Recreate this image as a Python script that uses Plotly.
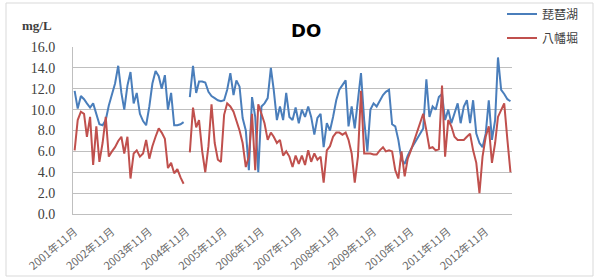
import pandas as pd
import plotly.graph_objects as go

# ---- data ----
start_month = "2001-11-01"

biwako = [
    11.8, 10.1, 11.3, 11.0, 10.6, 10.2, 10.6, 9.6, 8.6, 8.5,
    9.0, 10.4, 11.6, 12.5, 14.2, 11.6, 10.0, 12.3, 13.6, 10.6,
    11.6, 9.6, 8.9, 8.5, 10.3, 12.5, 13.7, 13.2, 12.0, 13.3,
    10.0, 11.6, 8.5, 8.5, 8.6, 8.8, None, 11.2, 14.2, 11.6,
    12.7, 12.7, 12.6, 11.7, 11.3, 11.1, 10.9, 10.8, 10.9, 11.9,
    13.5, 11.4, 12.8, 12.2, 9.2, 8.0, 4.2, 11.2, 9.3, 4.0,
    10.3, 10.6, 11.1, 14.0, 11.9, 9.0, 10.3, 9.0, 11.6, 9.3,
    9.0, 10.2, 8.7, 10.0, 9.3, 10.3, 9.3, 7.6, 9.2, 9.6,
    6.4, 8.7, 8.0, 9.3, 10.9, 11.9, 12.3, 12.8, 8.4, 10.3,
    8.2, 10.9, 13.5, 9.0, 6.0, 10.0, 10.6, 10.3, 10.9, 11.4,
    11.7, 11.9, 8.6, 8.4, 7.1, 5.2, 4.8, 5.6, 6.2, 6.7,
    7.2, 7.6, 8.2, 12.9, 9.3, 10.3, 10.0, 11.2, 11.5, 9.0,
    10.0, 8.7, 9.6, 10.6, 8.7, 10.3, 10.9, 8.7, 10.9, 7.7,
    6.8, 6.4, 7.7, 10.9, 7.1, 9.0, 15.0, 11.9, 11.5, 11.0,
    10.8,
]

hachimanbori = [
    6.1, 9.0, 9.8, 9.6, 7.4, 9.3, 4.7, 8.4, 5.0, 6.8,
    9.3, 5.5, 6.0, 6.4, 7.0, 7.4, 5.8, 7.4, 3.4, 5.8,
    6.1, 5.5, 5.8, 7.1, 5.3, 6.5, 7.4, 8.2, 7.8, 7.2,
    4.4, 4.9, 3.9, 4.3, 3.5, 2.9, None, 5.9, 10.2, 8.3,
    9.0, 6.0, 4.0, 6.5, 10.5, 6.8, 5.2, 5.0, 9.5, 10.6,
    10.3, 9.8, 9.0, 8.0, 6.8, 4.5, 5.5, 9.6, 4.2, 10.5,
    9.6, 8.7, 7.1, 7.8, 7.4, 6.8, 7.1, 5.6, 6.0, 5.5,
    4.5, 5.6, 4.8, 5.6, 4.7, 6.1, 5.0, 5.8, 5.2, 5.5,
    3.0, 6.1, 6.5, 7.4, 7.8, 7.8, 7.6, 7.8, 7.1, 5.8,
    3.0, 5.5, 11.8, 5.8, 5.8, 5.8, 5.7, 5.7, 6.1, 6.4,
    6.0, 6.1, 6.0, 4.2, 3.4, 6.0, 3.6, 5.3, 6.1, 7.0,
    7.8, 8.7, 9.6, 8.0, 6.3, 6.4, 6.1, 6.2, 12.3, 5.5,
    9.0, 8.4, 7.4, 7.1, 7.1, 7.1, 7.4, 7.7, 6.1, 4.9,
    2.0, 5.5, 7.4, 8.4, 4.9, 6.8, 9.3, 10.0, 10.6, 7.1,
    4.0,
]

series_names = ["琵琶湖", "八幡堀"]
tick_dates = ["%d-11-01" % y for y in range(2001, 2013)]
tick_labels = ["%d年11月" % y for y in range(2001, 2013)]
y_ticks = [0, 2, 4, 6, 8, 10, 12, 14, 16]

months = pd.date_range(start_month, periods=len(biwako), freq="MS")

W, H = 600, 277
L, R, T, B = 73, 88, 47, 63
pw, ph = W - L - R, H - T - B


def px_x(x):
    return (x - L) / pw


def px_y(y):
    return (H - B - y) / ph


fig = go.Figure()
fig.add_trace(go.Scatter(x=months, y=biwako, mode="lines", name=series_names[0],
                         line=dict(color="#4a7ebb", width=2), legend="legend"))
fig.add_trace(go.Scatter(x=months, y=hachimanbori, mode="lines", name=series_names[1],
                         line=dict(color="#c0504d", width=2), legend="legend2"))

legend_font = dict(family="Noto Sans CJK JP", size=12, color="#404040")
fig.update_layout(
    width=W, height=H,
    margin=dict(l=L, r=R, t=T, b=B, autoexpand=False),
    paper_bgcolor="white", plot_bgcolor="white",
    showlegend=True,
    legend=dict(xref="container", yref="container", x=502 / W, y=1 - 14 / H,
                xanchor="left", yanchor="middle", bgcolor="rgba(0,0,0,0)",
                font=legend_font),
    legend2=dict(xref="container", yref="container", x=502 / W, y=1 - 38 / H,
                 xanchor="left", yanchor="middle", bgcolor="rgba(0,0,0,0)",
                 font=legend_font),
    xaxis=dict(type="date", range=["2001-10-16", "2013-07-16"],
               tickmode="array", tickvals=tick_dates, ticktext=tick_labels,
               tickangle=-40, showgrid=False, showline=True, linecolor="#bfbfbf",
               ticks="", zeroline=False, ticklabelstandoff=6, automargin=False,
               tickfont=dict(family="Noto Sans CJK JP", size=11, color="#6a6a6a")),
    yaxis=dict(range=[0, 16], tickmode="array", tickvals=y_ticks, tickformat=".1f",
               showgrid=True, gridcolor="#bfbfbf", gridwidth=1,
               showline=True, linecolor="#bfbfbf", zeroline=False, ticks="",
               ticklabelstandoff=14, automargin=False,
               tickfont=dict(family="Liberation Serif", size=14, color="#404040")),
    annotations=[
        dict(text="<b>DO</b>", xref="paper", yref="paper", x=px_x(306), y=px_y(31),
             xanchor="center", yanchor="middle", showarrow=False,
             font=dict(family="DejaVu Sans", size=18, color="#000000")),
        dict(text="<b>mg/L</b>", xref="paper", yref="paper", x=px_x(20), y=px_y(25),
             xanchor="left", yanchor="middle", showarrow=False,
             font=dict(family="Liberation Serif", size=13, color="#404040")),
    ],
    shapes=[
        dict(type="rect", xref="paper", yref="paper",
             x0=px_x(6), x1=px_x(593), y0=px_y(276), y1=px_y(3),
             line=dict(color="#d9d9d9", width=1), fillcolor="rgba(0,0,0,0)", layer="below"),
    ],
)

fig.write_html("out.html", config={"displayModeBar": False},
               post_script="document.body.style.margin='0';document.body.style.padding='0';")
